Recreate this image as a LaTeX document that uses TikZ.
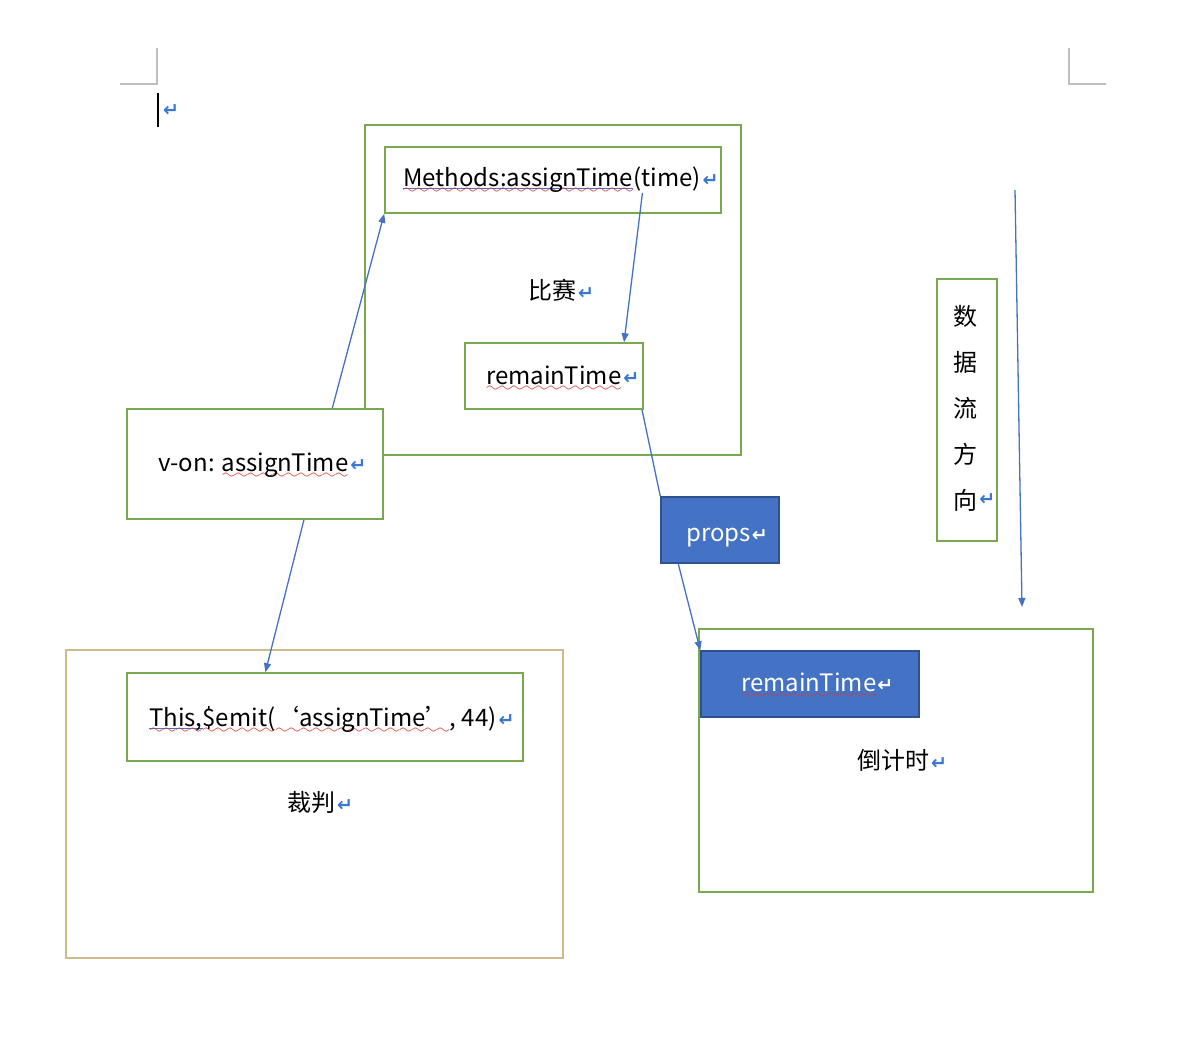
\documentclass[tikz,border=0pt]{standalone}
\usepackage{fontspec}
\setmainfont{Noto Sans CJK SC}
\newfontfamily\markfont{DejaVu Sans}
\usetikzlibrary{arrows.meta,fit,calc}
\definecolor{boxgreen}{RGB}{122,168,78}
\definecolor{boxtan}{RGB}{206,188,140}
\definecolor{flowblue}{RGB}{68,114,196}
\definecolor{edgeblue}{RGB}{47,82,143}
\definecolor{markblue}{RGB}{58,118,212}
\definecolor{spellred}{RGB}{214,60,50}
\definecolor{pagegray}{RGB}{191,191,191}
% spell-check underlines
\font\wavefont=lasy6 at 14pt
\newcommand\wavefill{\textcolor{spellred}{\xleaders\hbox{\lower7.5pt\hbox{\wavefont\char58}}\hfill}}
\newcommand\redwave[1]{\setbox0\hbox{#1}\rlap{\hbox to \wd0{\wavefill}}\box0}
\newcommand\bluewave[1]{\setbox0\hbox{#1}\rlap{\textcolor{flowblue}{\rule[-3pt]{\wd0}{1.1pt}}}\rlap{\hbox to \wd0{\wavefill}}\box0}
\newcommand\retmark{\hspace{2pt}{\markfont\bfseries\fontsize{19}{19}\selectfont\textcolor{markblue}{↵}}}
\newcommand\whitemark{\hspace{1pt}{\markfont\bfseries\fontsize{19}{19}\selectfont\textcolor{white}{↵}}}
\tikzset{
  greenbox/.style={draw=boxgreen,line width=1.6pt,fill=white,inner sep=0pt},
  tanbox/.style={draw=boxtan,line width=1.8pt,fill=white,inner sep=0pt},
  bluebox/.style={draw=edgeblue,line width=1.4pt,fill=flowblue,inner sep=0pt},
  txt/.style={inner sep=0pt,anchor=base west,font=\fontsize{24}{28}\selectfont},
  flowline/.style={draw=flowblue,line width=1.3pt},
  flowarrow/.style={flowline,-{Triangle[length=9pt,width=7pt]}}
}
\begin{document}
\begin{tikzpicture}[x=1pt,y=-1pt]
  \useasboundingbox (0,0) rectangle (1182,1050);
  % page corners and cursor
  \draw[pagegray,line width=1.5pt] (120,84) -| (157,48);
  \draw[pagegray,line width=1.5pt] (1069,48) |- (1106,84);
  \draw[line width=1.5pt] (158,93) -- (158,127);
  \node[inner sep=0pt,text=markblue,font=\markfont\bfseries\fontsize{19}{19}\selectfont] (cursorMark) at (171,111) {↵};
  % boxes
  \node[greenbox,fit={(365,125)(741,455)}] (match) {};
  \node[greenbox,fit={(385,147)(721,213)}] (methods) {};
  \node[greenbox,fit={(465,343)(643,409)}] (remain) {};
  \node[greenbox,fit={(127,409)(383,519)}] (von) {};
  \node[tanbox,fit={(66,650)(563,958)}] (judge) {};
  \node[greenbox,fit={(127,673)(523,761)}] (emit) {};
  \node[greenbox,fit={(699,629)(1093,892)}] (timer) {};
  \node[bluebox,fit={(701,651)(919,717)}] (remainB) {};
  \node[bluebox,fit={(661,497)(779,563)}] (props) {};
  \node[greenbox,fit={(937,279)(997,541)}] (flow) {};
  % texts
  \node[txt] (methodsT) at (403,186) {\bluewave{Methods:assignTime}(time)\retmark};
  \node[txt] (matchT) at (528,299) {比赛\retmark};
  \node[txt] (remainT) at (486,384) {\redwave{remainTime}\retmark};
  \node[txt] (vonT) at (158,471) {v-on: \redwave{assignTime}\retmark};
  \node[txt,text=white] (propsT) at (686,541) {props\whitemark};
  \node[txt,text=white] (remainBT) at (741,691) {\redwave{remainTime}\whitemark};
  \node[txt] (emitT) at (149,726) {\bluewave{This,}\redwave{\$emit(}\redwave{‘assignTime’}, 44)\retmark};
  \node[txt] (judgeT) at (287,811) {裁判\retmark};
  \node[txt] (timerT) at (857,769) {倒计时\retmark};
  \foreach \c [count=\i from 0] in {数,据,流,方,向}
    \node[txt,anchor=center] (flow\i) at (965,{316+46*\i}) {\c};
  \node[inner sep=0pt,anchor=west,text=markblue,font=\markfont\bfseries\fontsize{19}{19}\selectfont] (flowMark) at ([xshift=2pt]flow4.east) {↵};
  % connectors
  \draw[flowarrow] ($(von.north west)!0.8!(von.north east)$) -- (methods.south west);
  \draw[flowarrow] ($(methods.south west)!0.765!(methods.south east)+(0,-21)$) -- ($(remain.north west)!0.89!(remain.north east)$);
  \draw[flowline] ($(remain.south west)!0.99!(remain.south east)$) -- (props.north west);
  \draw[flowarrow] ($(props.south west)!0.15!(props.south east)$) -- (remainB.north west);
  \draw[flowarrow] ($(von.south west)!0.69!(von.south east)$) -- ($(emit.north west)!0.35!(emit.north east)$);
  \coordinate (flowTop) at (1015,190);
  \coordinate (flowEnd) at (1022,607);
  \draw[flowarrow] (flowTop) -- (flowEnd);
\end{tikzpicture}
\end{document}
